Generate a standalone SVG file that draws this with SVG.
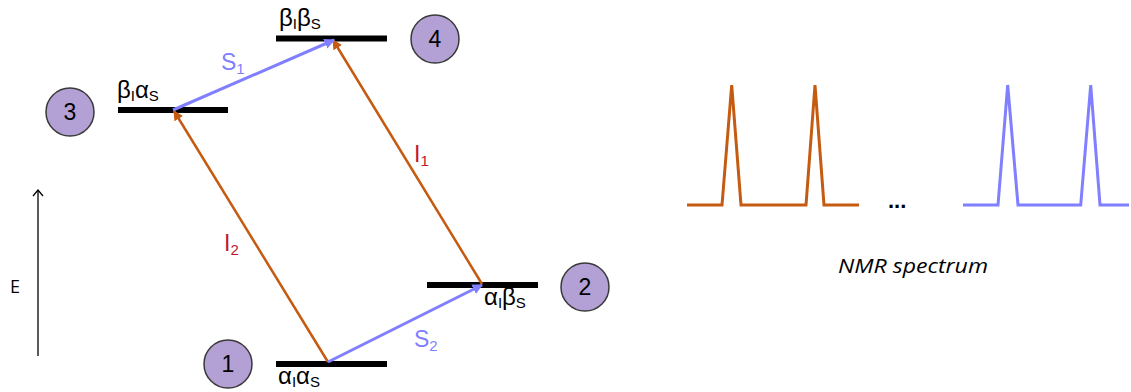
<svg xmlns="http://www.w3.org/2000/svg" width="1131" height="392" viewBox="0 0 1131 392">
<style>
.lvl{stroke:#000;stroke-width:6;}
.circ{fill:#B3A0D5;stroke:#3a3a3a;stroke-width:1.5;}
.num{font-family:"Liberation Sans",Arial,sans-serif;font-size:23px;fill:#000;text-anchor:middle;}
.st{font-family:"Liberation Sans",Arial,sans-serif;font-size:24px;fill:#000;}
.sub{font-size:15px;}
.I{stroke:#C55A11;stroke-width:2.5;fill:none;}
.S{stroke:#7F7FFF;stroke-width:3;fill:none;}
.lbI{font-family:"Liberation Sans",Arial,sans-serif;font-size:23px;fill:#C0172F;}
.lbS{font-family:"Liberation Sans",Arial,sans-serif;font-size:23px;fill:#7F7FFF;}
.specI{stroke:#C55A11;stroke-width:3;fill:none;}
.specS{stroke:#7F7FFF;stroke-width:3;fill:none;}
</style>
<defs>
<marker id="aI" viewBox="0 0 10 10" refX="9" refY="5" markerWidth="4" markerHeight="4" orient="auto"><path d="M0,0 L10,5 L0,10 z" fill="#C55A11"/></marker>
<marker id="aS" viewBox="0 0 10 10" refX="9" refY="5" markerWidth="3.5" markerHeight="3.5" orient="auto"><path d="M0,0 L10,5 L0,10 z" fill="#7F7FFF"/></marker>
<marker id="aE" viewBox="0 0 12 12" refX="11" refY="6" markerWidth="12" markerHeight="12" markerUnits="userSpaceOnUse" orient="auto"><path d="M5,1 L11,6 L5,11" fill="none" stroke="#000" stroke-width="1.3"/></marker>
</defs>

<g id="level4"><line class="lvl" x1="276" y1="38.5" x2="387" y2="38.5"/><text class="st" x="279" y="26">β<tspan class="sub" dy="3">I</tspan><tspan dy="-3">β</tspan><tspan class="sub" dy="3">S</tspan></text></g>
<g id="level3"><line class="lvl" x1="118" y1="110" x2="228" y2="110"/><text class="st" x="117" y="98">β<tspan class="sub" dy="3">I</tspan><tspan dy="-3">α</tspan><tspan class="sub" dy="3">S</tspan></text></g>
<g id="level2"><line class="lvl" x1="427" y1="285" x2="538" y2="285"/><text class="st" x="484" y="305">α<tspan class="sub" dy="3">I</tspan><tspan dy="-3">β</tspan><tspan class="sub" dy="3">S</tspan></text></g>
<g id="level1"><line class="lvl" x1="276" y1="364" x2="387" y2="364"/><text class="st" x="278" y="384">α<tspan class="sub" dy="3">I</tspan><tspan dy="-3">α</tspan><tspan class="sub" dy="3">S</tspan></text></g>

<g id="state3"><circle class="circ" cx="70" cy="112" r="24"/><text class="num" x="70" y="120">3</text></g>
<g id="state4"><circle class="circ" cx="435" cy="39" r="24"/><text class="num" x="435" y="47">4</text></g>
<g id="state1"><circle class="circ" cx="228" cy="364" r="24"/><text class="num" x="228" y="372">1</text></g>
<g id="state2"><circle class="circ" cx="585" cy="287" r="24"/><text class="num" x="585" y="295">2</text></g>

<g id="connectors">
<line class="I" x1="328" y1="362" x2="174" y2="111" marker-end="url(#aI)"/>
<line class="I" x1="482" y1="284" x2="333" y2="40" marker-end="url(#aI)"/>
<line class="S" x1="173" y1="110" x2="334" y2="40" marker-end="url(#aS)"/>
<line class="S" x1="328" y1="362" x2="482" y2="285" marker-end="url(#aS)"/>
<text class="lbS" x="221" y="70">S<tspan font-size="15" dy="4">1</tspan></text>
<text class="lbS" x="414" y="347">S<tspan font-size="15" dy="4">2</tspan></text>
<text class="lbI" x="414" y="162">I<tspan font-size="15" dy="4">1</tspan></text>
<text class="lbI" x="224" y="251">I<tspan font-size="15" dy="4">2</tspan></text>
</g>

<g id="energy-axis">
<line x1="38" y1="356" x2="38" y2="190" stroke="#000" stroke-width="1.3" marker-end="url(#aE)"/>
<text x="10" y="293" font-family="Open Sans, sans-serif" font-size="18" fill="#000">E</text>
</g>

<g id="spectrum">
<polyline class="specI" points="687,205 722,205 731.7,85 741,205 806,205 815,85 824,205 859,205"/>
<text x="888" y="208" font-family="Liberation Sans, sans-serif" font-size="22" font-weight="bold" fill="#000">...</text>
<polyline class="specS" points="963,205 998,205 1007.7,85 1018,205 1080.7,205 1090.7,85 1100,205 1129,205"/>
<text x="838" y="273" font-family="Open Sans, sans-serif" font-style="italic" font-size="20" textLength="150" lengthAdjust="spacingAndGlyphs" fill="#000">NMR spectrum</text>
</g>
</svg>
